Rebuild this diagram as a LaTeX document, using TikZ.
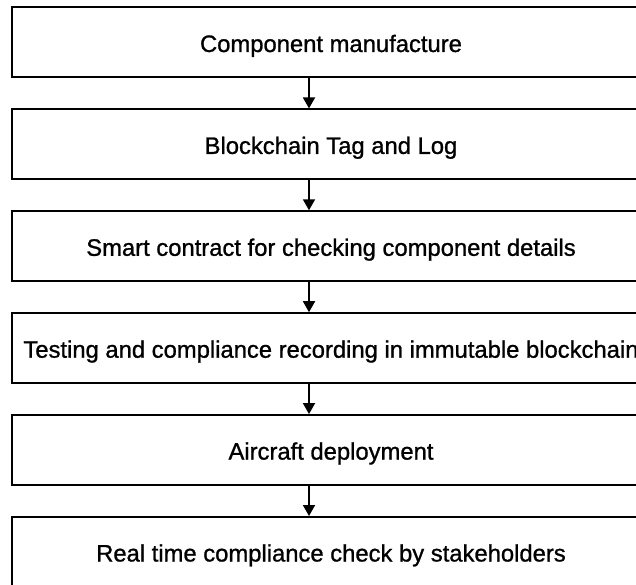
\documentclass[tikz,border=0pt]{standalone}
\usepackage{fontspec}
\setmainfont{Liberation Sans}[FakeBold=1.0]
\usetikzlibrary{arrows.meta}
\tikzset{
  stage/.style={draw=black, line width=2pt, fill=white, minimum width=638pt,
    minimum height=70pt, inner sep=0pt, text height=19pt, text depth=0pt,
    font=\fontsize{23.8}{28}\selectfont},
  flow/.style={draw=black, line width=1.8pt, -{Triangle[length=11pt,width=12pt]}}
}
\begin{document}
\begin{tikzpicture}[x=1pt, y=-1pt]
  \useasboundingbox (0,0) rectangle (636,585);
  \clip (0,0) rectangle (636,585);
  \fill[white] (0,0) rectangle (636,585);
  % the six stages of the component record, top to bottom
  \node[stage] (s1) at (331,42.5)  {Component manufacture};
  \node[stage] (s2) at (331,144.4) {Blockchain Tag and Log};
  \node[stage] (s3) at (331,246.3) {Smart contract for checking component details};
  \node[stage] (s4) at (331,348.2) {Testing and compliance recording in immutable blockchain};
  \node[stage] (s5) at (331,450.1) {Aircraft deployment};
  \node[stage] (s6) at (331,552)   {Real time compliance check by stakeholders};
  % connectors run down a common vertical line
  \coordinate (spine) at (309,0);
  \draw[flow] (s1.south -| spine) -- (s2.north -| spine);
  \draw[flow] (s2.south -| spine) -- (s3.north -| spine);
  \draw[flow] (s3.south -| spine) -- (s4.north -| spine);
  \draw[flow] (s4.south -| spine) -- (s5.north -| spine);
  \draw[flow] (s5.south -| spine) -- (s6.north -| spine);
\end{tikzpicture}
\end{document}
